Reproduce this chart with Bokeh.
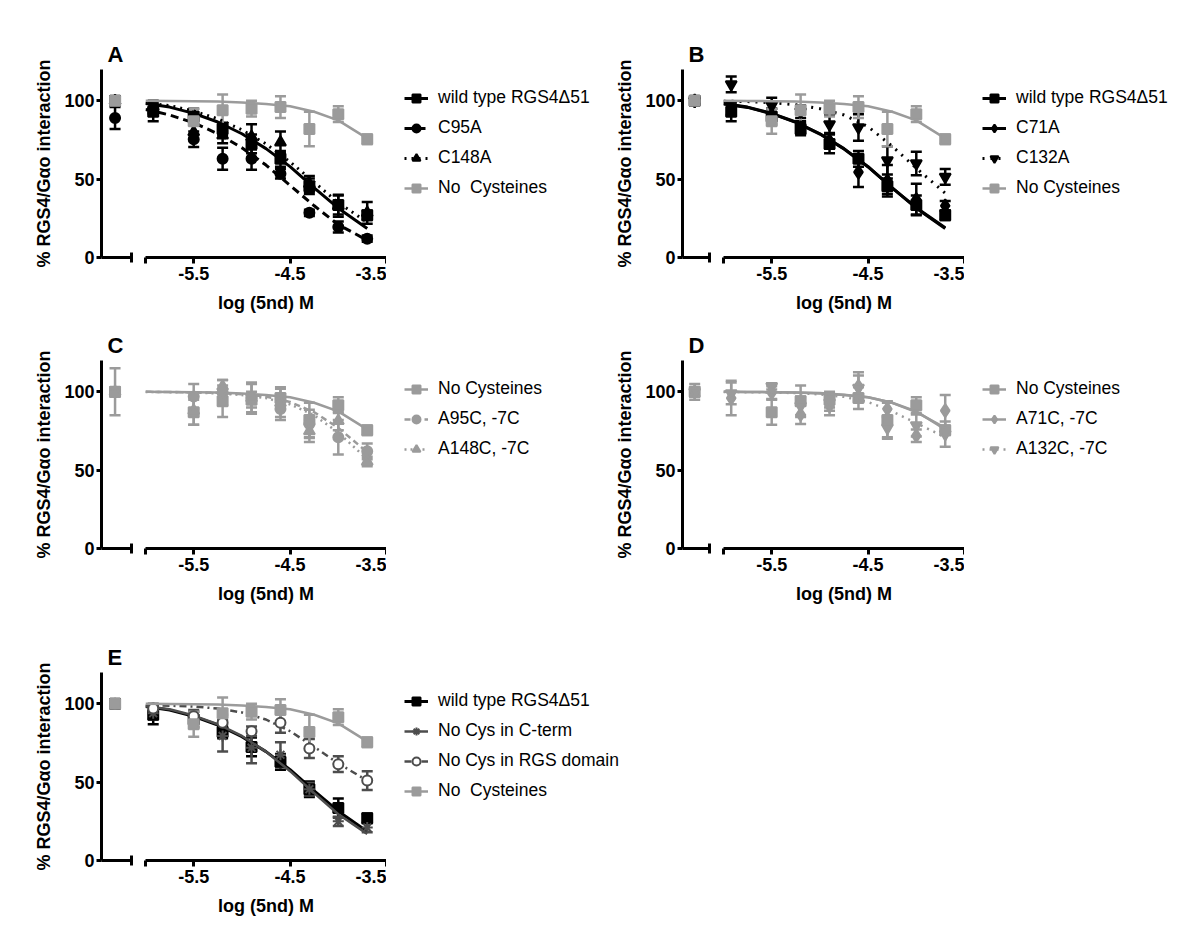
from bokeh.plotting import figure
from bokeh.models import (Range1d, FixedTicker, CustomJSTickFormatter, Whisker, TeeHead,
                          ColumnDataSource, Legend, LegendItem)
from bokeh.layouts import row, column
from bokeh.embed import file_html
from bokeh.resources import INLINE

# ---------------- data ----------------
conc_log = [-5.92, -5.5, -5.2, -4.9, -4.6, -4.3, -4.0, -3.7]
conc_log_7 = [-5.5, -5.2, -4.9, -4.6, -4.3, -4.0, -3.7]
control_x = -6.31
curve_x = [-6.0, -5.75, -5.5, -5.25, -5.0, -4.75, -4.5, -4.25, -4.0, -3.7]
y_ticks = [0, 50, 100]
x_ticks = [-6.0, -5.5, -4.5, -3.5]
break_tick = [-6.14]

wt_y = [93, 90, 82, 72.5, 63, 45.5, 33.5, 27]
wt_err = [6, 5, 4, 6, 5, 5, 6, 3]
wt_ctrl = [100, 2]
wt_curve = [98.3, 96, 92, 86.5, 79, 69.5, 58, 44.5, 31.5, 18.5]

c95a_y = [95, 75.5, 63, 63, 53.5, 28.5, 19.5, 12]
c95a_err = [3, 5, 7, 7, 3, 2, 3.5, 2]
c95a_ctrl = [89, 7]
c95a_curve = [94.5, 91, 86, 79, 70, 59, 46, 33, 21, 11]

c148a_y = [96, 80, 78, 77, 73.5, 47, 33, 28.5]
c148a_err = [4, 5, 5, 8, 7, 5, 7, 7]
c148a_ctrl = [100, 2]
c148a_curve = [98.5, 97, 93.5, 88.5, 81.5, 72.5, 61, 48, 35, 22.5]

nocys_y = [87, 94, 95, 96, 82, 91.5, 75.5]
nocys_err = [8, 10, 5, 7, 11, 5, 3]
nocys_ctrl = [100, 3]
nocys_curve = [100, 99.9, 99.8, 99.5, 99, 98, 96.5, 93, 87.5, 76]

c71a_y = [95, 91, 83, 74.5, 54.5, 49, 37, 33]
c71a_err = [4, 4, 4, 5, 9.5, 10, 10, 3]
c71a_ctrl = [100, 2]
c71a_curve = [98, 95.8, 91.8, 86.3, 78.8, 69.3, 57.8, 44.5, 31.8, 19]

c132a_y = [110.5, 97, 93, 85, 83, 62, 60, 51.5]
c132a_err = [5, 5, 4, 6, 8.5, 9, 7.5, 5]
c132a_ctrl = [100, 2]
c132a_curve = [99.8, 99.5, 98.8, 97.5, 95, 91, 83.5, 71, 57, 41]

a95c_y = [97, 99.5, 96, 89, 79.5, 71, 62]
a95c_err = [8, 8, 10, 7, 9, 11, 5]
a95c_ctrl = [100, 15]
a95c_curve = [100, 99.9, 99.7, 99.3, 98.5, 97, 93.5, 87, 77, 61.5]

a148c_y = [88, 103.5, 96, 93, 75, 81.5, 55.5]
a148c_err = [9, 4, 9, 9, 7, 6, 3]
a148c_ctrl = [100, 3]
a148c_curve = [99.9, 99.8, 99.6, 99, 98, 96, 92, 85, 74, 57]

a71c_y = [96, 99.5, 85.5, 91, 103.5, 89, 72, 88]
a71c_err = [11, 4, 6, 6, 9, 5, 4, 10]
a71c_ctrl = [100, 5]
a71c_curve = [100, 99.9, 99.8, 99.6, 99.2, 98.2, 96.5, 93, 87, 77]

a132c_y = [99, 103.5, 91, 93, 102.5, 77, 78.5, 73]
a132c_err = [7, 2, 6, 5, 8, 7, 7, 8]
a132c_ctrl = [100, 3]
a132c_curve = [99.9, 99.8, 99.6, 99.2, 98.4, 96.8, 93.5, 87.5, 80, 71]

cterm_y = [94, 90, 79.5, 72, 67.5, 45.5, 25, 21]
cterm_err = [4, 5, 10, 10, 8, 4, 3, 3]
cterm_ctrl = [100, 2]
cterm_curve = [98.5, 96.5, 92.5, 87, 79.5, 69.5, 57, 43, 29.5, 17]

rgsdom_y = [97, 92, 88, 82.5, 88, 71.5, 61.5, 51]
rgsdom_err = [3, 4, 5, 3, 6.5, 6, 5, 6]
rgsdom_ctrl = [100, 2]
rgsdom_curve = [99, 98.8, 98.3, 97, 94.5, 90, 82.5, 72.5, 62, 51]

# ---------------- styles ----------------
FONT = "Liberation Sans"
BLACK = "#000000"
GRAY = "#9b9b9b"
DARK = "#4d4d4d"
FRAME_H = 188
BOTTOM = 64
MAIN_W = 241
Y_LABEL = "% RGS4/G\u03b1o interaction"
X_LABEL = "log (5nd) M"


def series(label, xs, ys, errs, ctrl, curve, color, marker, size, dash="solid", fill=None, lw=3):
    return dict(label=label, xs=xs, ys=ys, errs=errs, ctrl=ctrl, curve=curve, color=color,
                marker=marker, size=size, dash=dash, fill=fill if fill else color, lw=lw)


def style_axis(ax):
    ax.axis_line_width = 3
    ax.axis_line_color = BLACK
    ax.major_tick_line_width = 3
    ax.major_tick_line_color = BLACK
    ax.major_tick_out = 6
    ax.major_tick_in = 0
    ax.minor_tick_line_color = None
    ax.major_label_text_font = FONT
    ax.major_label_text_font_style = "bold"
    ax.major_label_text_font_size = "18px"
    ax.major_label_text_color = BLACK
    ax.axis_label_text_font = FONT
    ax.axis_label_text_font_style = "bold"
    ax.axis_label_text_font_size = "18px"
    ax.axis_label_text_color = BLACK


def base_fig(xr, fw, top, left, right, axes=(True, True)):
    kw = dict(x_range=Range1d(*xr), y_range=Range1d(0, 120),
              width=fw + left + right, height=top + FRAME_H + BOTTOM,
              output_backend="svg", toolbar_location=None, min_border_top=top,
              min_border_bottom=BOTTOM, min_border_left=left, min_border_right=right,
              background_fill_color="white", border_fill_color="white", outline_line_color=None)
    if not axes[0]:
        kw["x_axis_location"] = None
    if not axes[1]:
        kw["y_axis_location"] = None
    p = figure(**kw)
    p.xgrid.visible = False
    p.ygrid.visible = False
    return p


def add_points(p, xs, ys, errs, s):
    src = ColumnDataSource(dict(x=xs, y=ys, lo=[y - e for y, e in zip(ys, errs)],
                                hi=[y + e for y, e in zip(ys, errs)]))
    w = Whisker(source=src, base="x", upper="hi", lower="lo", dimension="height",
                line_color=s["color"], line_width=2.5,
                upper_head=TeeHead(size=11, line_color=s["color"], line_width=2.5),
                lower_head=TeeHead(size=11, line_color=s["color"], line_width=2.5))
    p.add_layout(w)
    return p.scatter(x="x", y="y", source=src, marker=s["marker"], size=s["size"],
                     fill_color=s["fill"], line_color=s["color"], line_width=2)


def make_panel(letter, slist, top, left_border, legend_w):
    # left (control) segment of the broken x axis
    pl = base_fig((-6.45, -6.14), 30, top, left_border, 7)
    pl.title.text = letter
    pl.title.text_font = FONT
    pl.title.text_font_style = "bold"
    pl.title.text_font_size = "22px"
    pl.title.text_color = BLACK
    pl.title.align = "left"
    pl.title.offset = 6
    pl.title.standoff = 6
    style_axis(pl.yaxis[0])
    pl.yaxis[0].ticker = FixedTicker(ticks=y_ticks)
    pl.yaxis[0].major_tick_out = 5
    pl.yaxis[0].major_label_standoff = 2
    pl.yaxis[0].axis_label = Y_LABEL
    pl.yaxis[0].axis_label_standoff = 7
    style_axis(pl.xaxis[0])
    pl.xaxis[0].ticker = FixedTicker(ticks=break_tick)
    pl.xaxis[0].major_tick_in = 5
    pl.xaxis[0].major_tick_out = 5
    pl.xaxis[0].formatter = CustomJSTickFormatter(code="return '';")

    # main segment
    pr = base_fig((-6.0, -3.5), MAIN_W, top, 7, 0, axes=(True, False))
    style_axis(pr.xaxis[0])
    pr.xaxis[0].ticker = FixedTicker(ticks=x_ticks)
    pr.xaxis[0].formatter = CustomJSTickFormatter(
        code="return tick < -5.9 ? '' : tick.toFixed(1);")
    pr.xaxis[0].major_label_standoff = 3
    pr.xaxis[0].axis_label = X_LABEL
    pr.xaxis[0].axis_label_standoff = 10

    for s in slist:
        add_points(pl, [control_x], [s["ctrl"][0]], [s["ctrl"][1]], s)
        pr.line(curve_x, s["curve"], line_color=s["color"], line_width=s["lw"],
                line_dash=s["dash"], line_join="round")
        add_points(pr, s["xs"], s["ys"], s["errs"], s)

    # legend area: a plot whose (blank) frame sits beside the data frame; the same series
    # are drawn there but fall outside its x range, so only the legend shows
    pg = base_fig((0, 1), legend_w, top, 0, 0, axes=(False, False))
    items = []
    for s in slist:
        ln = pg.line(curve_x, s["curve"], line_color=s["color"], line_width=s["lw"],
                     line_dash=s["dash"])
        mk = pg.scatter(s["xs"], s["ys"], marker=s["marker"], size=s["size"],
                        fill_color=s["fill"], line_color=s["color"], line_width=2)
        items.append(LegendItem(label=s["label"], renderers=[ln, mk]))
    legend = Legend(items=items, location="top_left", margin=18, padding=7, spacing=9,
                    glyph_width=24, glyph_height=20, label_height=20, label_standoff=10,
                    label_text_font=FONT, label_text_font_size="17.5px", label_text_color=BLACK,
                    border_line_color=None, background_fill_alpha=0)
    pg.add_layout(legend)
    return [pl, pr, pg]


S_wt = series("wild type RGS4\u039451", conc_log, wt_y, wt_err, wt_ctrl, wt_curve, BLACK, "square", 10)
S_nocys2 = series("No  Cysteines", conc_log_7, nocys_y, nocys_err, nocys_ctrl, nocys_curve, GRAY, "square", 10, lw=2.5)
S_nocys1 = series("No Cysteines", conc_log_7, nocys_y, nocys_err, nocys_ctrl, nocys_curve, GRAY, "square", 10, lw=2.5)
S_c95a = series("C95A", conc_log, c95a_y, c95a_err, c95a_ctrl, c95a_curve, BLACK, "circle", 10, dash="8 5")
S_c148a = series("C148A", conc_log, c148a_y, c148a_err, c148a_ctrl, c148a_curve, BLACK, "triangle", 11, dash="2 5")
S_c71a = series("C71A", conc_log, c71a_y, c71a_err, c71a_ctrl, c71a_curve, BLACK, "diamond", 13)
S_c132a = series("C132A", conc_log, c132a_y, c132a_err, c132a_ctrl, c132a_curve, BLACK, "inverted_triangle", 11, dash="2 6")
S_a95c = series("A95C, -7C", conc_log_7, a95c_y, a95c_err, a95c_ctrl, a95c_curve, GRAY, "circle", 10, dash="6 4", lw=2.5)
S_a148c = series("A148C, -7C", conc_log_7, a148c_y, a148c_err, a148c_ctrl, a148c_curve, GRAY, "triangle", 11, dash="2 4", lw=2.5)
S_a71c = series("A71C, -7C", conc_log, a71c_y, a71c_err, a71c_ctrl, a71c_curve, GRAY, "diamond", 13, lw=2.5)
S_a132c = series("A132C, -7C", conc_log, a132c_y, a132c_err, a132c_ctrl, a132c_curve, GRAY, "inverted_triangle", 11, dash="2 5", lw=2.5)
S_cterm = series("No Cys in C-term", conc_log, cterm_y, cterm_err, cterm_ctrl, cterm_curve, DARK, "asterisk", 11, lw=2.5)
S_rgs = series("No Cys in RGS domain", conc_log, rgsdom_y, rgsdom_err, rgsdom_ctrl, rgsdom_curve, DARK, "circle", 10, dash="7 4 2 4", fill="white", lw=2.5)

pA = make_panel("A", [S_wt, S_c95a, S_c148a, S_nocys2], 69, 101, 226)
pB = make_panel("B", [S_wt, S_c71a, S_c132a, S_nocys1], 69, 67, 220)
pC = make_panel("C", [S_nocys1, S_a95c, S_a148c], 39, 101, 226)
pD = make_panel("D", [S_nocys1, S_a71c, S_a132c], 39, 67, 220)
pE = make_panel("E", [S_wt, S_cterm, S_rgs, S_nocys2], 60, 101, 260)

layout = column(row(*(pA + pB), spacing=0), row(*(pC + pD), spacing=0), row(*pE, spacing=0),
                spacing=0)

open("out.html", "w").write(file_html(layout, INLINE))
